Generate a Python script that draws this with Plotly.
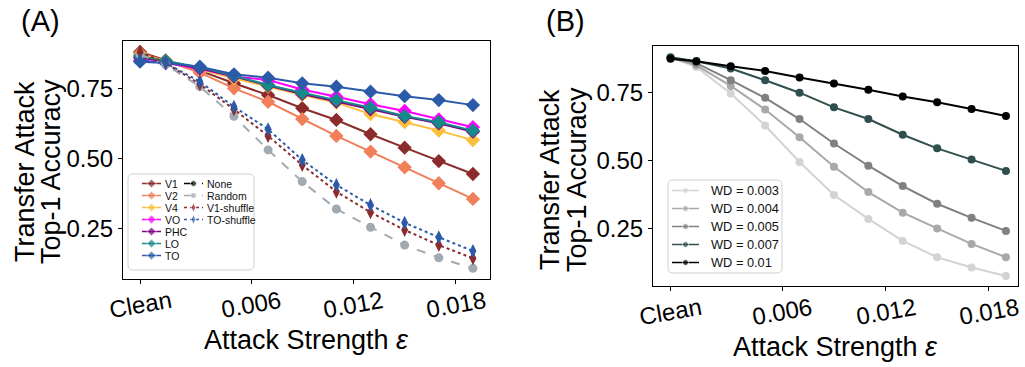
import plotly.graph_objects as go

W, H = 1025, 367

# ---------------- data ----------------
eps = [0.001, 0.003, 0.005, 0.007, 0.009, 0.011, 0.013, 0.015, 0.017, 0.019]
tick_text = ["Clean", "0.006", "0.012", "0.018"]
tick_eps = [0.006, 0.012, 0.018]

a_names = ["V1", "V2", "V4", "VO", "PHC", "LO", "TO"]
V1 = [0.880, 0.850, 0.813, 0.768, 0.726, 0.679, 0.637, 0.586, 0.538, 0.490, 0.444]
V2 = [0.875, 0.848, 0.806, 0.750, 0.702, 0.640, 0.580, 0.524, 0.468, 0.411, 0.355]
V4 = [0.870, 0.848, 0.818, 0.786, 0.756, 0.726, 0.699, 0.658, 0.629, 0.599, 0.565]
VO = [0.850, 0.840, 0.820, 0.792, 0.780, 0.746, 0.720, 0.693, 0.669, 0.639, 0.611]
PHC = [0.860, 0.845, 0.822, 0.793, 0.760, 0.730, 0.703, 0.675, 0.648, 0.625, 0.595]
LO = [0.865, 0.848, 0.825, 0.795, 0.762, 0.734, 0.708, 0.681, 0.651, 0.629, 0.599]
TO = [0.845, 0.840, 0.827, 0.800, 0.788, 0.768, 0.756, 0.738, 0.722, 0.708, 0.690]
Random = [0.870, 0.835, 0.756, 0.650, 0.530, 0.417, 0.319, 0.254, 0.190, 0.145, 0.107]
V1_shuffle = [0.880, 0.840, 0.765, 0.675, 0.580, 0.476, 0.381, 0.307, 0.244, 0.190, 0.143]
TO_shuffle = [0.850, 0.840, 0.774, 0.684, 0.604, 0.494, 0.405, 0.333, 0.270, 0.218, 0.169]

b_names = ["WD = 0.003", "WD = 0.004", "WD = 0.005", "WD = 0.007", "WD = 0.01"]
WD_003 = [0.880, 0.846, 0.748, 0.630, 0.496, 0.374, 0.286, 0.205, 0.145, 0.107, 0.076]
WD_004 = [0.880, 0.852, 0.776, 0.689, 0.587, 0.478, 0.385, 0.309, 0.251, 0.194, 0.145]
WD_005 = [0.880, 0.860, 0.797, 0.732, 0.654, 0.564, 0.482, 0.407, 0.342, 0.290, 0.242]
WD_007 = [0.882, 0.867, 0.840, 0.797, 0.751, 0.697, 0.654, 0.596, 0.546, 0.505, 0.463]
WD_01 = [0.876, 0.867, 0.848, 0.831, 0.807, 0.785, 0.762, 0.737, 0.716, 0.691, 0.665]

# ---------------- styles ----------------
CLEAN_POS = -0.0005
xs = [CLEAN_POS] + eps
FONT = "Liberation Sans, Arial, Helvetica, sans-serif"

a_colors = ["#8B2B2B", "#F07F5A", "#FBBF3C", "#FF00FF", "#800080", "#16898B", "#2B5BA8"]
a_values = [V1, V2, V4, VO, PHC, LO, TO]
a_extra = [
    ("None", None, "#000000", "dash", "circle", 6),
    ("Random", Random, "#A0AAB3", "dash", "circle", 9),
    ("V1-shuffle", V1_shuffle, "#8B2B2B", "dot", "diamond-tall", 10),
    ("TO-shuffle", TO_shuffle, "#2B5BA8", "dot", "diamond-tall", 10),
]
b_colors = ["#D3D3D3", "#A9A9A9", "#808080", "#2F4F4F", "#000000"]
b_values = [WD_003, WD_004, WD_005, WD_007, WD_01]

fig = go.Figure()

for name, vals, col in zip(a_names, a_values, a_colors):
    fig.add_trace(go.Scatter(x=xs, y=vals, name=name, mode="lines+markers",
                             line=dict(color=col, width=2),
                             marker=dict(symbol="diamond", size=11, color=col),
                             xaxis="x", yaxis="y", showlegend=False))
for name, vals, col, dash, sym, sz in a_extra:
    if vals is None:
        continue
    fig.add_trace(go.Scatter(x=xs, y=vals, name=name, mode="lines+markers",
                             line=dict(color=col, width=2, dash=dash),
                             marker=dict(symbol=sym, size=sz, color=col),
                             xaxis="x", yaxis="y", showlegend=False))

for name, vals, col in zip(b_names, b_values, b_colors):
    fig.add_trace(go.Scatter(x=xs, y=vals, name=name, mode="lines+markers",
                             line=dict(color=col, width=2),
                             marker=dict(symbol="circle", size=8, color=col),
                             xaxis="x2", yaxis="y2", showlegend=False))

# ---------------- compact legends (pixel overlay axes) ----------------
annotations = []
shapes = []


def rounded_box(x0, y0, x1, y1, r=5):
    return (f"M{x0+r},{y0} L{x1-r},{y0} Q{x1},{y0} {x1},{y0+r} "
            f"L{x1},{y1-r} Q{x1},{y1} {x1-r},{y1} "
            f"L{x0+r},{y1} Q{x0},{y1} {x0},{y1-r} "
            f"L{x0},{y0+r} Q{x0},{y0} {x0+r},{y0} Z")


def add_legend_column(entries, lx0, lx1, tx, row0, rowh, fsize, lw):
    for ri, (n, c, d, s, sz) in enumerate(entries):
        yy = row0 + rowh * ri
        fig.add_trace(go.Scatter(x=[lx0, (lx0 + lx1) / 2, lx1], y=[yy, yy, yy],
                                 mode="lines+markers", showlegend=False, hoverinfo="skip",
                                 line=dict(color=c, width=lw, dash=d),
                                 marker=dict(symbol=s, size=[0, sz, 0], color=c),
                                 xaxis="x3", yaxis="y3"))
        annotations.append(dict(x=tx, y=yy, xref="x3", yref="y3", text=n, showarrow=False,
                                xanchor="left", yanchor="middle",
                                font=dict(size=fsize, color="#111", family=FONT)))


# panel A legend
shapes.append(dict(type="path", path=rounded_box(128, 174, 254, 270), xref="x3", yref="y3",
                   layer="below", line=dict(color="#D0D0D0", width=1),
                   fillcolor="rgba(255,255,255,0.8)"))
entries1 = [(n, c, "solid", "diamond", 7) for n, c in zip(a_names, a_colors)]
entries2 = [(n, c, d, s, 6 if s == "circle" else 7) for n, _, c, d, s, _ in a_extra]
add_legend_column(entries1, 142, 161, 163, 183.5, 12.0, 10.5, 1.5)
add_legend_column(entries2, 184, 203, 205, 183.5, 12.0, 10.5, 1.5)

# panel B legend
shapes.append(dict(type="path", path=rounded_box(668, 180, 782, 273), xref="x3", yref="y3",
                   layer="below", line=dict(color="#D0D0D0", width=1),
                   fillcolor="rgba(255,255,255,0.8)"))
entries_b = [(n, c, "solid", "circle", 6) for n, c in zip(b_names, b_colors)]
add_legend_column(entries_b, 672, 699, 709, 190.5, 18.0, 12.8, 1.5)

# ---------------- axis / title text ----------------
def px_x(p):
    return p / W


def px_y(p):
    return 1 - p / H


A_X = (123, 490)
A_Y = (41, 279)
B_X = (653, 1018)
B_Y = (46, 286)

title_font = dict(size=27, color="black", family=FONT)
ylab_font = dict(size=27, family=FONT, color="black")
annotations += [
    dict(text="(A)", x=px_x(19), y=px_y(3), xref="paper", yref="paper", xanchor="left",
         yanchor="top", showarrow=False, font=dict(size=29, family=FONT, color="black")),
    dict(text="(B)", x=px_x(544), y=px_y(3), xref="paper", yref="paper", xanchor="left",
         yanchor="top", showarrow=False, font=dict(size=29, family=FONT, color="black")),
    dict(text="Attack Strength <i>ε</i>", x=px_x(sum(A_X) / 2), y=px_y(357), xref="paper",
         yref="paper", xanchor="center", yanchor="bottom", showarrow=False, font=title_font),
    dict(text="Attack Strength <i>ε</i>", x=px_x(sum(B_X) / 2), y=px_y(364), xref="paper",
         yref="paper", xanchor="center", yanchor="bottom", showarrow=False, font=title_font),
]
# two-line y labels (tight line pitch like the original)
for (cx1, cx2), cy in [((25, 51), 172), ((550, 577), 180)]:
    for txt, cx in [("Transfer Attack", cx1), ("Top-1 Accuracy", cx2)]:
        annotations.append(dict(text=txt, x=px_x(cx), y=px_y(cy), xref="paper",
                                yref="paper", xanchor="center", yanchor="middle",
                                textangle=-90, showarrow=False, font=ylab_font))

# x tick labels: centred on ticks and slightly rotated
tick_font = dict(size=24, color="black", family=FONT)
for xref, ay in [("x", A_Y), ("x2", B_Y)]:
    for tv, tt in zip([CLEAN_POS] + tick_eps, tick_text):
        annotations.append(dict(text=tt, x=tv, xref=xref, y=px_y(ay[1] + 25), yref="paper",
                                xanchor="center", yanchor="middle", textangle=-10,
                                showarrow=False, font=tick_font))

common_x = dict(tickmode="array", tickvals=[CLEAN_POS] + tick_eps, ticktext=tick_text,
                showticklabels=False, ticks="outside", ticklen=4, tickwidth=1, tickcolor="black",
                showline=True, mirror=True, linecolor="black", linewidth=1.2,
                showgrid=False, zeroline=False, tickfont=tick_font, automargin=False)
common_y = dict(tickmode="array", tickvals=[0.25, 0.5, 0.75], ticktext=["0.25", "0.50", "0.75"],
                ticks="outside", ticklen=4, tickwidth=1, tickcolor="black",
                showline=True, mirror=True, linecolor="black", linewidth=1.2,
                showgrid=False, zeroline=False, tickfont=tick_font, automargin=False)

fig.update_layout(
    width=W, height=H, margin=dict(l=0, r=0, t=0, b=0, autoexpand=False),
    paper_bgcolor="white", plot_bgcolor="rgba(0,0,0,0)",
    font=dict(family=FONT, color="black"),
    xaxis=dict(domain=[px_x(A_X[0]), px_x(A_X[1])], range=[-0.0015, 0.0200], anchor="y", **common_x),
    yaxis=dict(domain=[px_y(A_Y[1]), px_y(A_Y[0])], range=[0.069, 0.919], anchor="x", **common_y),
    xaxis2=dict(domain=[px_x(B_X[0]), px_x(B_X[1])], range=[-0.00152, 0.0197], anchor="y2", **common_x),
    yaxis2=dict(domain=[px_y(B_Y[1]), px_y(B_Y[0])], range=[0.039, 0.923], anchor="x2", **common_y),
    xaxis3=dict(domain=[0, 1], range=[0, W], anchor="y3", visible=False, fixedrange=True,
                automargin=False),
    yaxis3=dict(domain=[0, 1], range=[H, 0], anchor="x3", visible=False, fixedrange=True,
                automargin=False),
    showlegend=False,
    annotations=annotations,
    shapes=shapes,
)

fig.write_html("out.html")
